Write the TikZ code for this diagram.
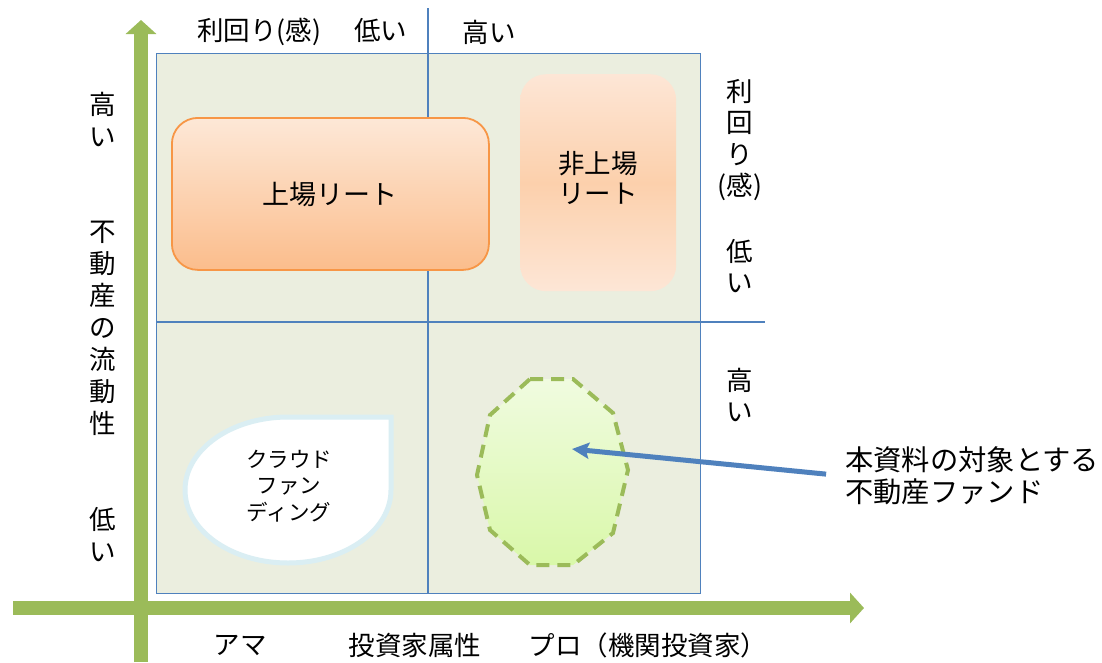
\documentclass[tikz,border=0pt]{standalone}
\usepackage{fontspec}
\setmainfont{Noto Sans CJK JP}
\usetikzlibrary{arrows.meta}
\definecolor{axisg}{HTML}{9BBB59}
\definecolor{bggreen}{HTML}{EBEEDF}
\definecolor{lineblue}{HTML}{4F81BD}
\definecolor{orbord}{HTML}{F79646}
\definecolor{ortop}{HTML}{FDE8D7}
\definecolor{orbot}{HTML}{FBBD8C}
\definecolor{petop}{HTML}{FDE6D6}
\definecolor{pemid}{HTML}{FCD0AC}
\definecolor{tearb}{HTML}{DAEEF3}
\definecolor{gtop}{HTML}{F0FBE0}
\definecolor{gbot}{HTML}{D9F8A9}
\tikzset{
  lbl/.style={font=\fontsize{26.5}{32}\selectfont, align=center, inner sep=0pt, text=black},
  vlbl/.style={font=\fontsize{26.5}{31.5}\selectfont, align=center, inner sep=0pt, text=black},
  small/.style={font=\fontsize{21.5}{26.5}\selectfont, align=center, inner sep=0pt, text=black},
  divider/.style={draw=lineblue, line width=1.3pt},
  axis/.style={draw=axisg, line width=14pt, -{Triangle[length=14pt,width=30pt]}},
}
\begin{document}
\begin{tikzpicture}[x=1pt,y=-1pt]
\useasboundingbox (0,0) rectangle (1102,662);
\fill[white] (0,0) rectangle (1102,662);
% background box
\node[draw=lineblue, line width=1pt, fill=bggreen, minimum width=544pt, minimum height=540pt, inner sep=0pt, anchor=north west] (quad) at (156,53) {};
% dividers
\coordinate (vtop) at (428,8);
\coordinate (vbot) at (428,593);
\coordinate (hleft) at (156,322);
\coordinate (hright) at (765,322);
\draw[divider] (vtop) -- (vbot);
\draw[divider] (hleft) -- (hright);
% listed REIT
\node[draw=orbord, line width=1.8pt, rounded corners=26pt, top color=ortop, bottom color=orbot, minimum width=317pt, minimum height=152pt, anchor=north west, lbl, font=\fontsize{27}{32}\selectfont] (lreit) at (171,117) {上場リート};
% unlisted REIT
\node[rounded corners=26pt, top color=petop, bottom color=petop, middle color=pemid, minimum width=156pt, minimum height=217pt, anchor=north west, inner sep=0pt] (ureit) at (520,74) {};
\node[lbl, font=\fontsize{26.5}{30}\selectfont] (ureittxt) at (598,178) {非上場\\リート};
% crowdfunding teardrop
\draw[draw=tearb, line width=5pt, fill=white] (391,417) -- (391,490) arc[start angle=0, end angle=270, x radius=103, y radius=73] -- cycle;
\node[small] (crowd) at (289,486) {クラウド\\ファン\\ディング};
% target fund polygon
\path[draw=axisg, line width=4pt, dash pattern=on 13pt off 8pt, top color=gtop, bottom color=gbot]
  (530,379) -- (573,379) -- (613,413) -- (628,470) -- (613,533) -- (573,565) -- (530,565) -- (490,530) -- (477,475) -- (490,415) -- cycle;
\coordinate (tgt) at (572,449);
% axes
\coordinate (ybot) at (141,662);
\coordinate (ytop) at (141,20);
\coordinate (xleft) at (13,608);
\coordinate (xright) at (864,608);
\draw[axis] (ybot) -- (ytop);
\draw[axis] (xleft) -- (xright);
% top labels
\node[lbl, anchor=west] (ylow) at (197,32) {利回り(感)\hspace{33pt}低い};
\node[lbl] (yhigh) at (489,32) {高い};
% left labels
\node[lbl] (lhigh) at (103,119) {高\\い};
\node[lbl] (liq) at (103,328) {不\\動\\産\\の\\流\\動\\性};
\node[lbl] (llow) at (103,535) {低\\い};
% right labels
\node[vlbl] (ryield) at (740,140) {利\\回\\り\\(感)};
\node[vlbl] (rlow) at (740,266) {低\\い};
\node[vlbl] (rhigh) at (740,395) {高\\い};
% bottom labels
\node[lbl] (ama) at (240,645) {アマ};
\node[lbl] (attr) at (415,645) {投資家属性};
\node[lbl] (pro) at (648,645) {プロ（機関投資家）};
% fund label and arrow
\node[lbl, anchor=west, align=left, font=\fontsize{28.3}{32}\selectfont] (fund) at (845,476) {本資料の対象とする\\不動産ファンド};
\draw[draw=lineblue, line width=5pt, shorten <=19pt, -{Stealth[length=17pt,width=16pt,inset=3pt]}] (fund.west) -- (tgt);
\end{tikzpicture}
\end{document}
